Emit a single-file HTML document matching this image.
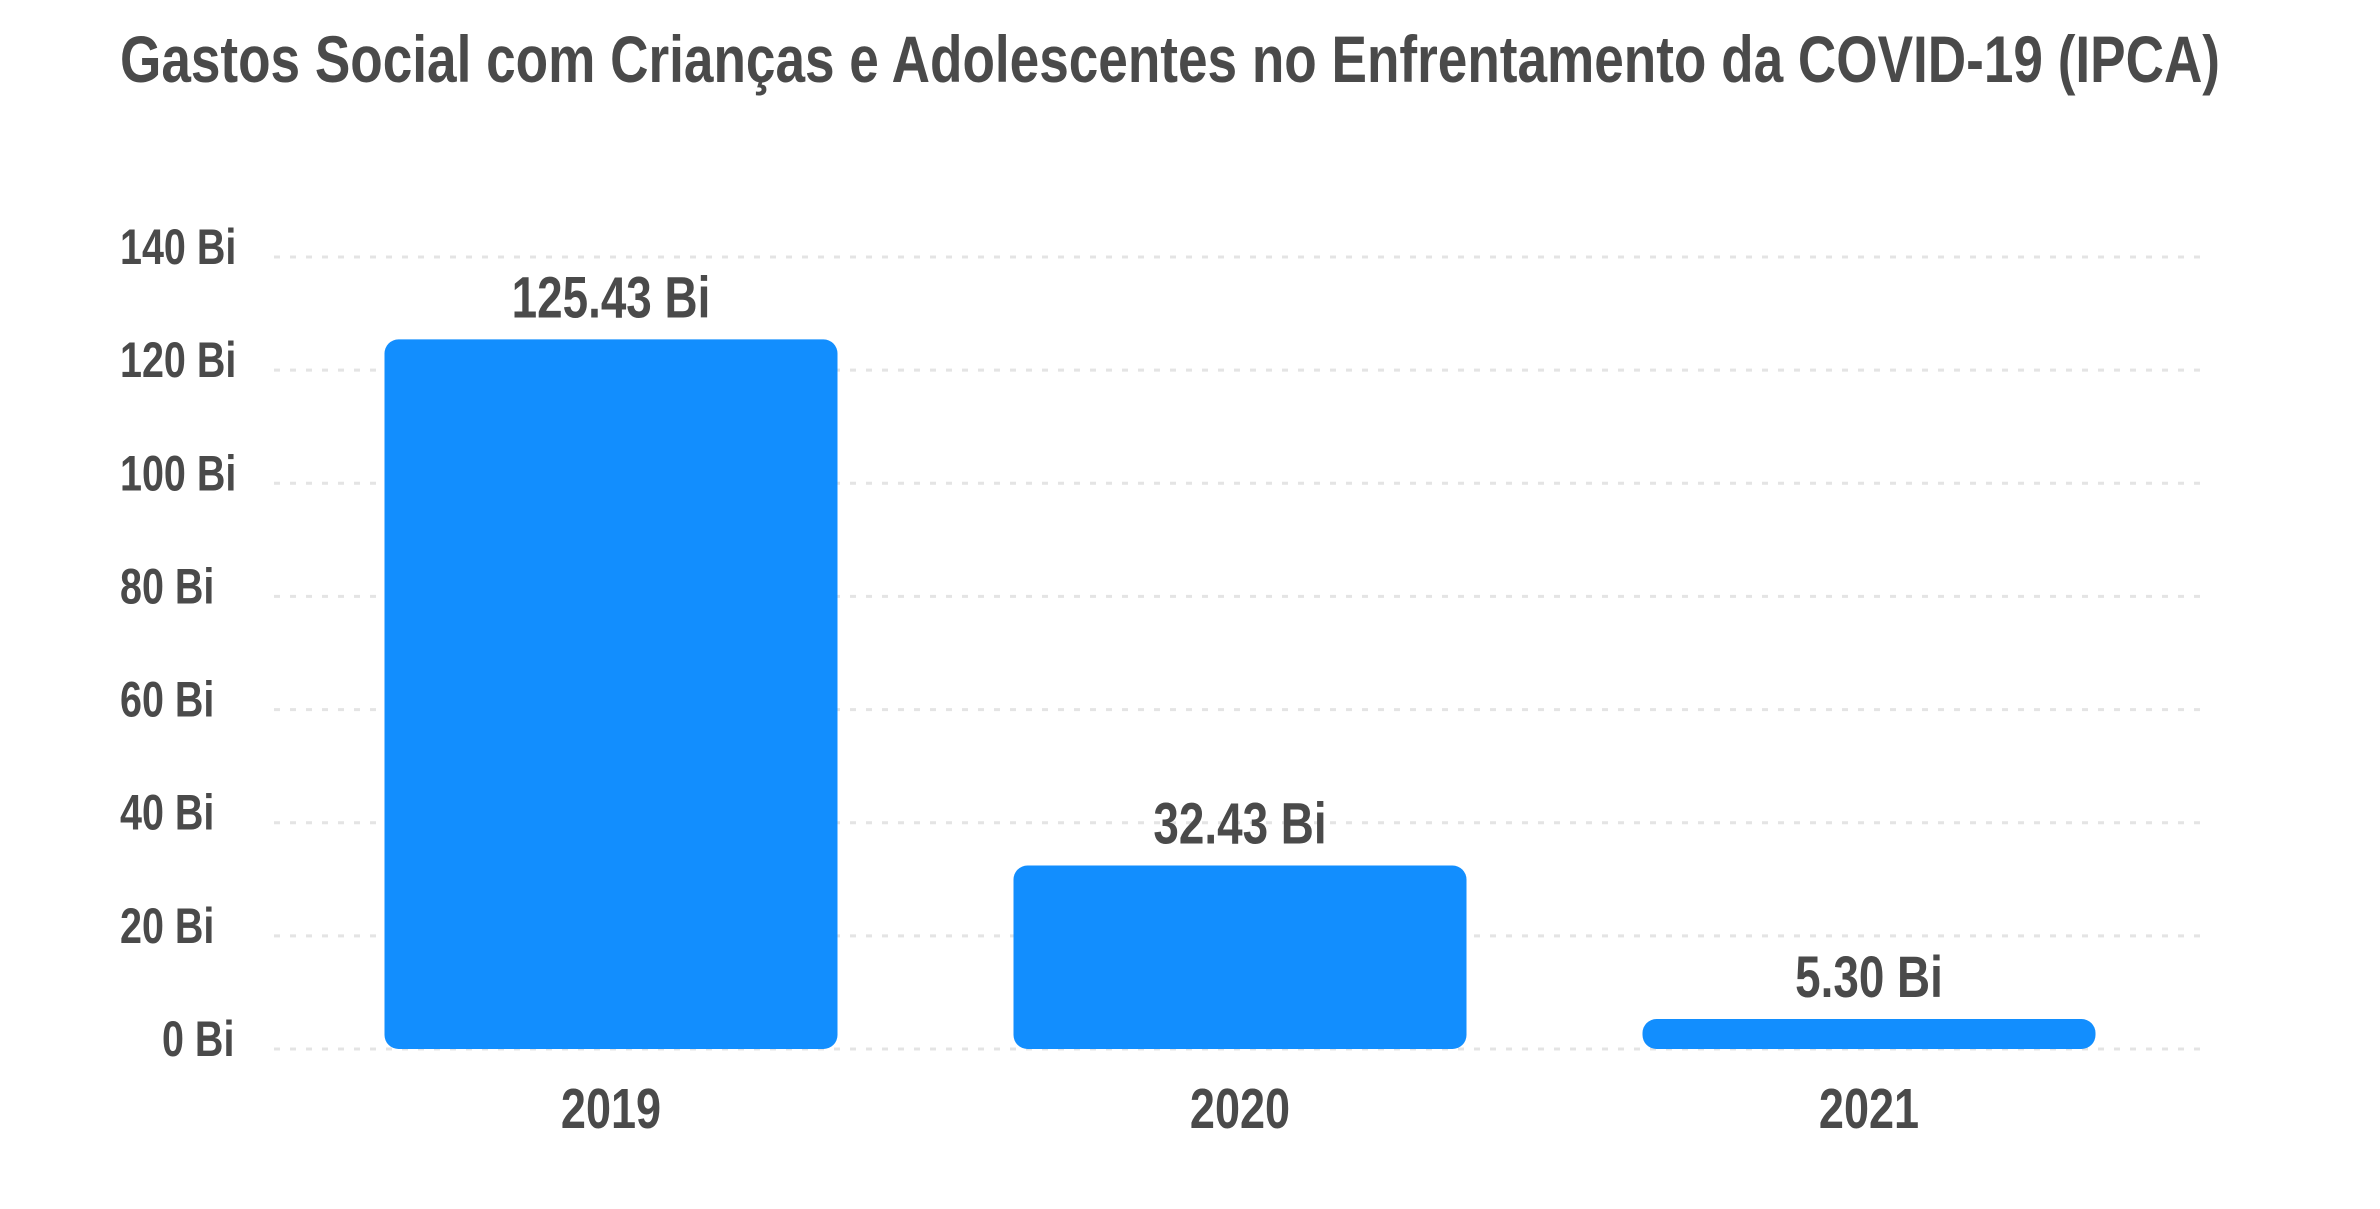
<!DOCTYPE html>
<html><head><meta charset="utf-8">
<style>
html,body{margin:0;padding:0;background:#fff;}
svg{display:block;font-family:"Liberation Sans Narrow","Liberation Sans",sans-serif;font-weight:bold;}
</style></head>
<body>
<svg id="chart" width="2380" height="1209" viewBox="0 0 2380 1209" xmlns="http://www.w3.org/2000/svg">
<text x="120" y="82" font-size="66" fill="#4a4a4a" textLength="2100" lengthAdjust="spacingAndGlyphs">Gastos Social com Crianças e Adolescentes no Enfrentamento da COVID-19 (IPCA)</text>
<g id="grid"></g><g id="bars"></g><g id="labels"></g>
</svg>
<script>
const categories = ["2019", "2020", "2021"];
const values = [125.43, 32.43, 5.30];
const valueLabels = ["125.43 Bi", "32.43 Bi", "5.30 Bi"];
const ticks = [0, 20, 40, 60, 80, 100, 120, 140];
const tickLabels = ["0 Bi", "20 Bi", "40 Bi", "60 Bi", "80 Bi", "100 Bi", "120 Bi", "140 Bi"];

const NS = "http://www.w3.org/2000/svg";
const y0 = 1049, y1 = 257, yMax = 140;
const xL = 274, xR = 2204;
function y(v){ return y0 - v / yMax * (y0 - y1); }
const firstCenter = 611, step = 629;
function xc(i){ return firstCenter + step * i; }
const barW = 453;
const SX = 0.79;

const grid = document.getElementById('grid');
const bars = document.getElementById('bars');
const labels = document.getElementById('labels');

function place(t, x, yy){ t.setAttribute('transform', 'translate(' + x + ',' + yy + ') scale(' + SX + ',1)'); }

ticks.forEach((t, i) => {
  const l = document.createElementNS(NS, 'line');
  
  
  l.setAttribute('x1', xL); l.setAttribute('x2', xR);
  l.setAttribute('y1', y(t)); l.setAttribute('y2', y(t));
  l.setAttribute('stroke', '#e4e4e4'); l.setAttribute('stroke-width', '3');
  l.setAttribute('stroke-dasharray', '6 10');
  grid.appendChild(l);
  const tx = document.createElementNS(NS, 'text');
  
  
  place(tx, t === 0 ? 162 : 120, y(t) + 7);
  tx.setAttribute('font-size', '50');
  tx.setAttribute('fill', '#4a4a4a');
  tx.textContent = tickLabels[i];
  labels.appendChild(tx);
});

values.forEach((v, i) => {
  const cx = xc(i);
  const top = y(v);
  const r = document.createElementNS(NS, 'rect');
  
  
  r.setAttribute('x', cx - barW / 2);
  r.setAttribute('y', top);
  r.setAttribute('width', barW);
  r.setAttribute('height', Math.max(y0 - top, 1));
  const rad = Math.min(14, (y0 - top) / 2);
  r.setAttribute('rx', rad); r.setAttribute('ry', rad);
  r.setAttribute('fill', '#128efe');
  bars.appendChild(r);

  const vl = document.createElementNS(NS, 'text');
  
  
  place(vl, cx, top - 22);
  vl.setAttribute('text-anchor', 'middle');
  vl.setAttribute('font-size', '58');
  vl.setAttribute('fill', '#4a4a4a');
  vl.textContent = valueLabels[i];
  labels.appendChild(vl);

  const cl = document.createElementNS(NS, 'text');
  
  
  place(cl, cx, 1128);
  cl.setAttribute('text-anchor', 'middle');
  cl.setAttribute('font-size', '57');
  cl.setAttribute('fill', '#4a4a4a');
  cl.textContent = categories[i];
  labels.appendChild(cl);
});
</script>
</body></html>
